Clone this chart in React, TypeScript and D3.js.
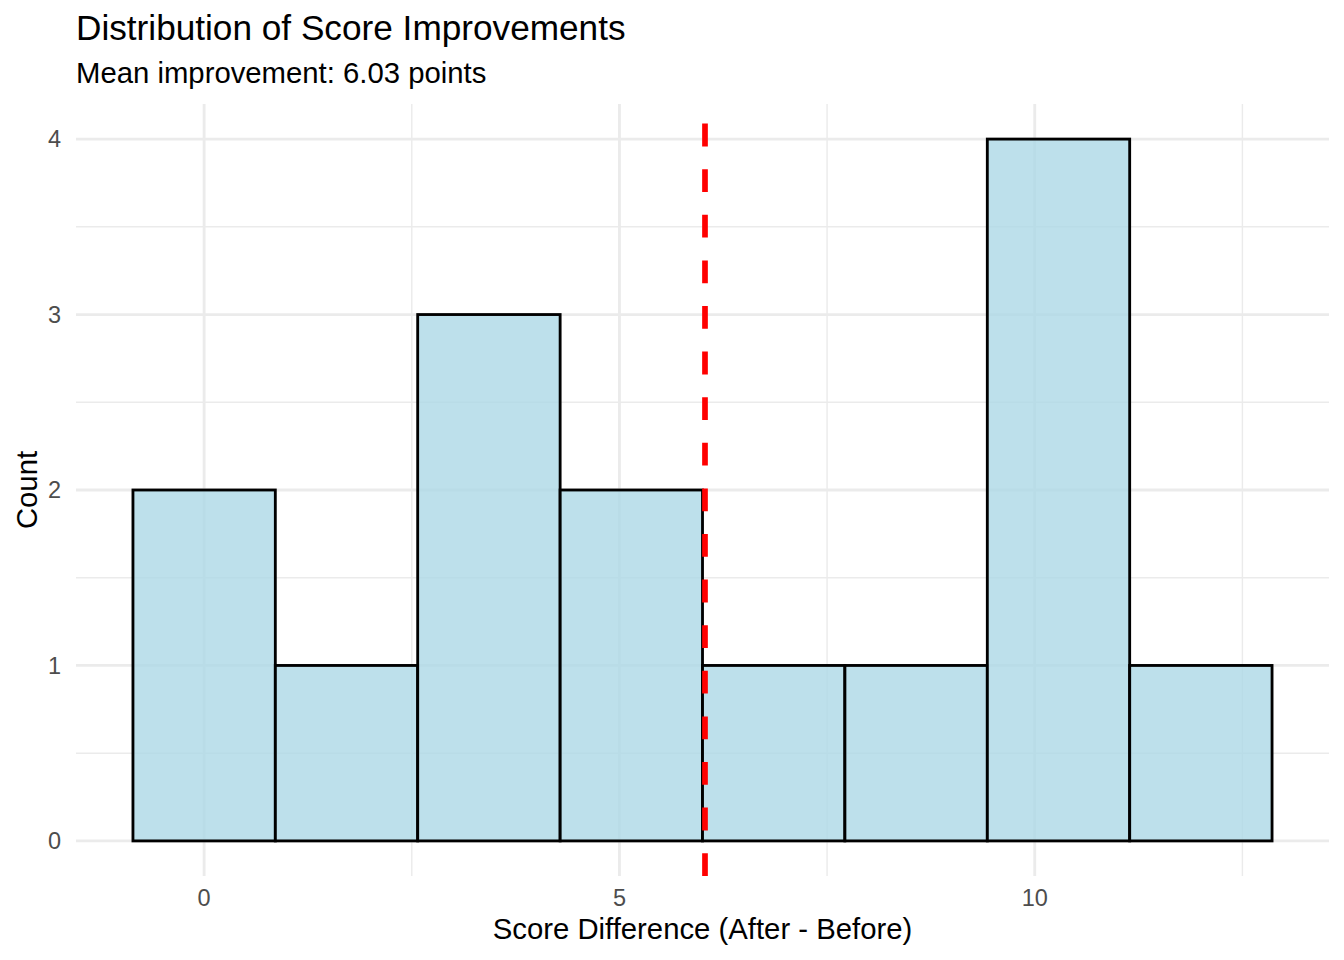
import React, { useEffect, useRef } from 'react';
import * as d3 from 'd3';

// histogram bins (8 bins, width 12/7)
const binEdges = [-0.857, 0.857, 2.571, 4.286, 6.0, 7.714, 9.429, 11.143, 12.857];
const binCounts = [2, 1, 3, 2, 1, 1, 4, 1];
const meanImprovement = 6.03;

const xTicks = [0, 5, 10];
const xMinorTicks = [2.5, 7.5, 12.5];
const yTicks = [0, 1, 2, 3, 4];
const yMinorTicks = [0.5, 1.5, 2.5, 3.5];

const titleText = 'Distribution of Score Improvements';
const subtitleText = `Mean improvement: ${meanImprovement.toFixed(2)} points`;
const xLabel = 'Score Difference (After - Before)';
const yLabel = 'Count';

export default function App(): JSX.Element {
  const svgRef = useRef<SVGSVGElement>(null);

  useEffect(() => {
    const svgEle = svgRef.current;
    if (svgEle == null) {
      return;
    }
    const W = 1344;
    const H = 960;
    const FONT = `'Liberation Sans', Arial, Helvetica, sans-serif`;
    const GRID = '#EBEBEB';

    const svg = d3.select(svgEle);
    svg.selectAll('*').remove();

    // panel bounds
    const panel = { left: 76, right: 1329, top: 104, bottom: 876 };

    const xMin = binEdges[0];
    const xMax = binEdges[binEdges.length - 1];
    const xPad = (xMax - xMin) * 0.05;
    const x = d3
      .scaleLinear()
      .domain([xMin - xPad, xMax + xPad])
      .range([panel.left, panel.right]);

    const yMax = d3.max(binCounts) || 0;
    const yPad = yMax * 0.05;
    const y = d3
      .scaleLinear()
      .domain([-yPad, yMax + yPad])
      .range([panel.bottom, panel.top]);

    svg.append('rect').attr('width', W).attr('height', H).attr('fill', 'white');

    const grid = svg.append('g');
    // minor grid
    grid
      .selectAll('line.xminor')
      .data(xMinorTicks)
      .enter()
      .append('line')
      .attr('x1', (d) => x(d))
      .attr('x2', (d) => x(d))
      .attr('y1', panel.top)
      .attr('y2', panel.bottom)
      .attr('stroke', GRID)
      .attr('stroke-width', 1.42);
    grid
      .selectAll('line.yminor')
      .data(yMinorTicks)
      .enter()
      .append('line')
      .attr('x1', panel.left)
      .attr('x2', panel.right)
      .attr('y1', (d) => y(d))
      .attr('y2', (d) => y(d))
      .attr('stroke', GRID)
      .attr('stroke-width', 1.42);
    // major grid
    grid
      .selectAll('line.xmajor')
      .data(xTicks)
      .enter()
      .append('line')
      .attr('x1', (d) => x(d))
      .attr('x2', (d) => x(d))
      .attr('y1', panel.top)
      .attr('y2', panel.bottom)
      .attr('stroke', GRID)
      .attr('stroke-width', 2.84);
    grid
      .selectAll('line.ymajor')
      .data(yTicks)
      .enter()
      .append('line')
      .attr('x1', panel.left)
      .attr('x2', panel.right)
      .attr('y1', (d) => y(d))
      .attr('y2', (d) => y(d))
      .attr('stroke', GRID)
      .attr('stroke-width', 2.84);

    // bars
    const bins = binCounts.map((c, i) => ({ x0: binEdges[i], x1: binEdges[i + 1], count: c }));
    svg
      .append('g')
      .selectAll('rect')
      .data(bins)
      .enter()
      .append('rect')
      .attr('x', (d) => x(d.x0))
      .attr('width', (d) => x(d.x1) - x(d.x0))
      .attr('y', (d) => y(d.count))
      .attr('height', (d) => y(0) - y(d.count))
      .attr('fill', 'lightblue')
      .attr('fill-opacity', 0.8)
      .attr('stroke', 'black')
      .attr('stroke-width', 2.84);

    // mean line, dashes start from the bottom
    svg
      .append('line')
      .attr('x1', x(meanImprovement))
      .attr('x2', x(meanImprovement))
      .attr('y1', panel.bottom)
      .attr('y2', panel.top)
      .attr('stroke', 'red')
      .attr('stroke-width', 5.7)
      .attr('stroke-dasharray', '22.8 22.8');

    // tick labels
    svg
      .append('g')
      .selectAll('text')
      .data(xTicks)
      .enter()
      .append('text')
      .attr('x', (d) => x(d))
      .attr('y', 906)
      .attr('text-anchor', 'middle')
      .attr('font-family', FONT)
      .attr('font-size', 23.5)
      .attr('fill', '#4D4D4D')
      .text((d) => d);
    svg
      .append('g')
      .selectAll('text')
      .data(yTicks)
      .enter()
      .append('text')
      .attr('x', 61)
      .attr('y', (d) => y(d))
      .attr('dy', '0.35em')
      .attr('text-anchor', 'end')
      .attr('font-family', FONT)
      .attr('font-size', 23.5)
      .attr('fill', '#4D4D4D')
      .text((d) => d);

    // axis titles
    svg
      .append('text')
      .attr('x', (panel.left + panel.right) / 2)
      .attr('y', 939)
      .attr('text-anchor', 'middle')
      .attr('font-family', FONT)
      .attr('font-size', 29.3)
      .attr('fill', 'black')
      .text(xLabel);
    svg
      .append('text')
      .attr('transform', `translate(37,${(panel.top + panel.bottom) / 2}) rotate(-90)`)
      .attr('text-anchor', 'middle')
      .attr('font-family', FONT)
      .attr('font-size', 29.3)
      .attr('fill', 'black')
      .text(yLabel);

    // title and subtitle
    svg
      .append('text')
      .attr('x', 76)
      .attr('y', 40)
      .attr('font-family', FONT)
      .attr('font-size', 35.2)
      .attr('fill', 'black')
      .text(titleText);
    svg
      .append('text')
      .attr('x', 76)
      .attr('y', 83)
      .attr('font-family', FONT)
      .attr('font-size', 29.3)
      .attr('fill', 'black')
      .text(subtitleText);
  });

  return (
    <svg
      ref={svgRef}
      width={1344}
      height={960}
      style={{ position: 'absolute', left: 0, top: 0, display: 'block' }}
    />
  );
}
